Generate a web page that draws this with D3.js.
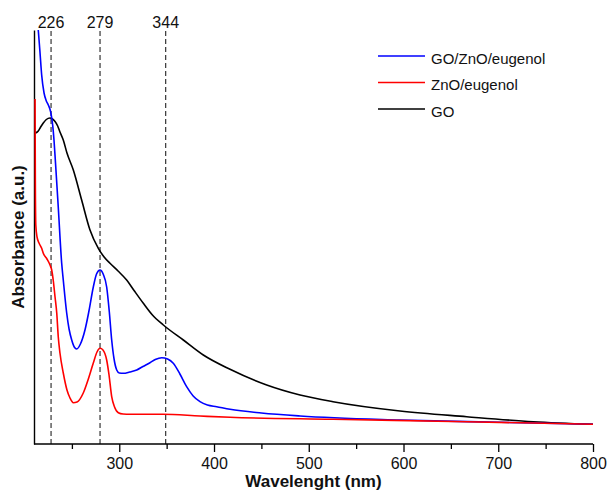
<!DOCTYPE html>
<html>
<head>
<meta charset="utf-8">
<script src="https://cdn.jsdelivr.net/npm/d3@7/dist/d3.min.js"></script>
<style>
  html, body { margin: 0; padding: 0; background: #fff; }
  svg { display: block; font-family: Arial, "Liberation Sans", sans-serif; }
</style>
</head>
<body>
<svg id="chart" width="610" height="491"></svg>
<script>
// ---- data (wavelength nm, absorbance a.u.) ----
const seriesNames = ["GO/ZnO/eugenol", "ZnO/eugenol", "GO"];
const seriesColors = ["#0000ff", "#ff0000", "#000000"];

const goZnoEugenol = [
  [214.5,4.14],[216.3,3.92],[218.1,3.69],[220.6,3.51],[223,3.43],[225.1,3.39],[227.6,3.32],
  [229.7,3.19],[231.1,3.04],[232.7,2.81],[235.6,2.37],[239.2,1.81],[240.9,1.64],[244.5,1.31],
  [247,1.15],[249.8,1.04],[252.5,0.97],[255.1,0.95],[259,1.0],[263.8,1.14],[268,1.33],
  [272.6,1.57],[276,1.70],[279.7,1.74],[283,1.70],[286.7,1.57],[289.5,1.32],[292,1.04],
  [294.5,0.85],[297.3,0.74],[300,0.71],[304.3,0.707],[311,0.72],[318.4,0.74],[325,0.775],
  [332.4,0.813],[338,0.845],[344.8,0.863],[351,0.85],[357,0.807],[364,0.70],[371.1,0.573],
  [378,0.48],[385.2,0.423],[393,0.39],[402.8,0.373],[416.9,0.347],[450,0.31],[490.8,0.28],
  [596.3,0.24],[702.6,0.217],[800,0.197]
];
const znoEugenol = [
  [211.1,3.45],[211.4,2.64],[211.9,2.19],[213.2,2.07],[215.3,2.01],[218.1,1.957],[219.8,1.907],
  [223.7,1.85],[226.9,1.79],[228.7,1.74],[230.4,1.63],[232.2,1.47],[234,1.31],[235.6,1.073],
  [237.4,0.91],[240.9,0.71],[244.8,0.54],[248,0.46],[251.5,0.413],[255.4,0.42],[262,0.51],
  [267,0.64],[272.6,0.81],[276.5,0.92],[279.7,0.957],[282.8,0.94],[286.7,0.84],[289.2,0.69],
  [292,0.473],[295,0.37],[299,0.313],[304,0.30],[311.3,0.297],[346,0.297],[385.2,0.28],
  [417,0.267],[525.6,0.247],[666.7,0.223],[800,0.197]
];
const go = [
  [211.1,3.107],[214.5,3.13],[217,3.17],[219.8,3.21],[223,3.245],[226.9,3.26],[229.5,3.25],
  [232.2,3.225],[235,3.18],[237.4,3.12],[240.9,3.04],[244.8,2.91],[251.5,2.74],[260.3,2.44],
  [269.1,2.14],[277.9,1.957],[284,1.87],[290.2,1.807],[298.7,1.73],[307.8,1.64],[316,1.53],
  [325.4,1.407],[335,1.29],[346.5,1.19],[367.6,1.04],[388.7,0.89],[416.9,0.747],[455.6,0.59],
  [490.8,0.49],[525.6,0.423],[596.3,0.33],[666.7,0.273],[737,0.223],[800,0.197]
];
const seriesData = [goZnoEugenol, znoEugenol, go];

const markerNm = [228, 279.7, 349];
const markerLabels = ["226", "279", "344"];

const xTicks = [300, 400, 500, 600, 700, 800];
const xMinorTicks = [250, 350, 450, 550, 650, 750];
const xDomain = [210, 800];
const yDomain = [0, 4.14];

// ---- layout ----
const svg = d3.select("#chart");
const pLeft = 34, pRight = 593, pTop = 30, pBottom = 444;

const x = d3.scaleLinear().domain(xDomain).range([pLeft, pRight]);
const y = d3.scaleLinear().domain(yDomain).range([pBottom, pTop]);

svg.append("defs").append("clipPath").attr("id", "plotclip")
  .append("rect").attr("x", pLeft).attr("y", pTop).attr("width", pRight - pLeft + 2).attr("height", pBottom - pTop);

// marker dashed lines
svg.append("g").selectAll("line").data(markerNm).join("line")
  .attr("x1", d => x(d)).attr("x2", d => x(d))
  .attr("y1", pTop + 1).attr("y2", pBottom)
  .attr("stroke", "#222").attr("stroke-width", 1.1).attr("stroke-dasharray", "5,3");

svg.append("g").selectAll("text").data(markerNm).join("text")
  .attr("x", d => x(d)).attr("y", 27.5)
  .attr("text-anchor", "middle").attr("font-size", 16).attr("fill", "#111")
  .text((d, i) => markerLabels[i]);

// axes
const xAxis = d3.axisBottom(x).tickValues(xTicks).tickSize(8).tickPadding(6).tickFormat(d3.format("d"));
const gx = svg.append("g").attr("transform", `translate(0,${pBottom})`).call(xAxis);
gx.select(".domain").attr("stroke", "#000").attr("stroke-width", 1.4).attr("d", `M${pLeft},0H${pRight}`);
gx.selectAll(".tick line").attr("stroke", "#000").attr("stroke-width", 1.3);
gx.selectAll(".tick text").attr("font-size", 16).attr("fill", "#111").attr("font-family", "Arial, 'Liberation Sans', sans-serif");

const xMinor = d3.axisBottom(x).tickValues(xMinorTicks).tickSize(5).tickFormat("");
const gxm = svg.append("g").attr("transform", `translate(0,${pBottom})`).call(xMinor);
gxm.select(".domain").remove();
gxm.selectAll(".tick line").attr("stroke", "#000").attr("stroke-width", 1.3);

const yAxis = d3.axisLeft(y).tickValues([]).tickSizeOuter(0);
const gy = svg.append("g").attr("transform", `translate(${pLeft},0)`).call(yAxis);
gy.select(".domain").attr("stroke", "#000").attr("stroke-width", 1.4);

// series lines
const line = d3.line().x(d => x(d[0])).y(d => y(d[1])).curve(d3.curveMonotoneX);
const gl = svg.append("g").attr("clip-path", "url(#plotclip)");
[2, 0, 1].forEach(i => {
  gl.append("path").datum(seriesData[i])
    .attr("d", line).attr("fill", "none")
    .attr("stroke", seriesColors[i]).attr("stroke-width", 1.6)
    .attr("stroke-linejoin", "round");
});

// axis titles
svg.append("text").attr("x", (pLeft + pRight) / 2).attr("y", 487)
  .attr("text-anchor", "middle").attr("font-size", 17).attr("font-weight", "bold")
  .attr("fill", "#111").text("Wavelenght (nm)");
svg.append("text").attr("transform", "translate(24,237) rotate(-90)")
  .attr("text-anchor", "middle").attr("font-size", 17).attr("font-weight", "bold")
  .attr("fill", "#111").text("Absorbance (a.u.)");

// legend
const legend = svg.append("g");
seriesNames.forEach((name, i) => {
  const ly = 56 + i * 26.5;
  legend.append("line").attr("x1", 378).attr("x2", 425).attr("y1", ly).attr("y2", ly)
    .attr("stroke", seriesColors[i]).attr("stroke-width", 1.6);
  legend.append("text").attr("x", 431).attr("y", ly + 7.5).attr("font-size", 15)
    .attr("fill", "#111").text(name);
});
</script>
</body>
</html>
